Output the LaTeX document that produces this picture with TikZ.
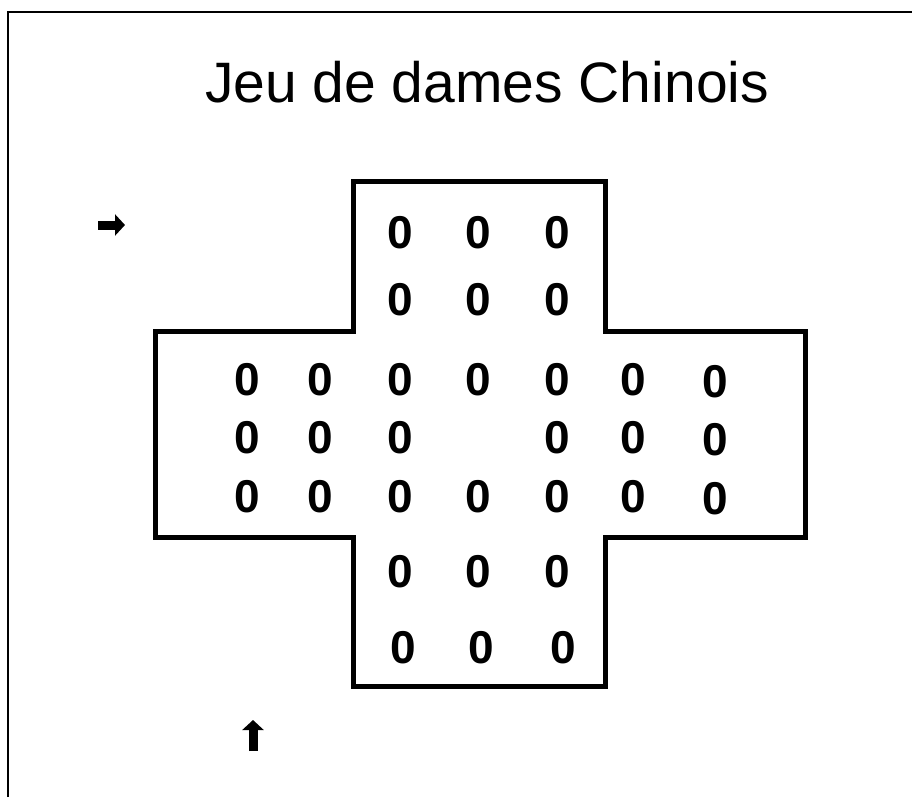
\documentclass[tikz,border=0pt]{standalone}
\usepackage{fontspec}
\setmainfont{Liberation Sans}
\usepackage{tikz}
\usetikzlibrary{arrows.meta}
\tikzset{
  board/.style ={draw=black, line width=5pt, line join=miter},
  frm/.style   ={draw=black, line width=1.6pt},
  pion/.style  ={font=\fontsize{46}{46}\selectfont\bfseries, inner sep=0pt, anchor=center},
  ttl/.style   ={font=\fontsize{57}{57}\selectfont, inner sep=0pt, anchor=center},
  blk/.style   ={draw=black, line width=9pt,
                 -{Triangle[length=10pt,width=21pt]}},
}

\begin{document}
\begin{tikzpicture}[x=1pt,y=-1pt]
  \useasboundingbox (0,0) rectangle (912,797);
  \fill[white] (0,0) rectangle (912,797);
  \draw[frm] (8,797) -- (8,12) -- (912,12);
  \node[ttl] (titre) at (487,82) {Jeu de dames Chinois};
  % contour de la croix
  \draw[board] (353,181) -- (605,181) -- (605,331) -- (805,331) -- (805,537)
        -- (605,537) -- (605,686) -- (353,686) -- (353,537) -- (155,537)
        -- (155,331) -- (353,331) -- cycle;
  % bras du haut
  \node[pion] (p11) at (400,233) {0};
  \node[pion] (p12) at (478,233) {0};
  \node[pion] (p13) at (557,233) {0};
  \node[pion] (p21) at (400,300) {0};
  \node[pion] (p22) at (478,300) {0};
  \node[pion] (p23) at (557,300) {0};
  % rangees du milieu
  \node[pion] (p31) at (247,380) {0};
  \node[pion] (p32) at (320,380) {0};
  \node[pion] (p33) at (400,380) {0};
  \node[pion] (p34) at (478,380) {0};
  \node[pion] (p35) at (557,380) {0};
  \node[pion] (p36) at (633,380) {0};
  \node[pion] (p37) at (715,382) {0};
  \node[pion] (p41) at (247,438) {0};
  \node[pion] (p42) at (320,438) {0};
  \node[pion] (p43) at (400,438) {0};
  \node[pion] (p45) at (557,438) {0};
  \node[pion] (p46) at (633,438) {0};
  \node[pion] (p47) at (715,440) {0};
  \node[pion] (p51) at (247,497) {0};
  \node[pion] (p52) at (320,497) {0};
  \node[pion] (p53) at (400,497) {0};
  \node[pion] (p54) at (478,497) {0};
  \node[pion] (p55) at (557,497) {0};
  \node[pion] (p56) at (633,497) {0};
  \node[pion] (p57) at (715,499) {0};
  % bras du bas
  \node[pion] (p61) at (400,572) {0};
  \node[pion] (p62) at (478,572) {0};
  \node[pion] (p63) at (557,572) {0};
  \node[pion] (p71) at (403,648) {0};
  \node[pion] (p72) at (481,648) {0};
  \node[pion] (p73) at (563,648) {0};
  % fleches
  \coordinate (fa) at (98,225);
  \coordinate (fb) at (125,225);
  \coordinate (fc) at (253,751);
  \coordinate (fd) at (253,720);
  \draw[blk] (fa) -- (fb);
  \draw[blk] (fc) -- (fd);
\end{tikzpicture}
\end{document}
